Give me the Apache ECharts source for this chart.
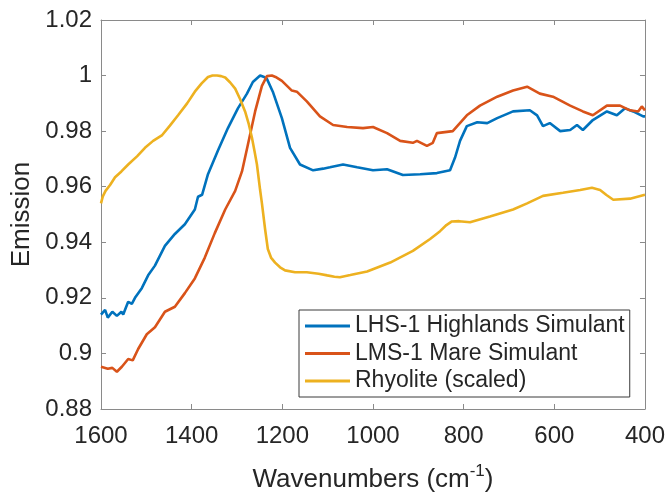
<!DOCTYPE html>
<html>
<head>
<meta charset="utf-8">
<script src="https://cdn.jsdelivr.net/npm/echarts@6/dist/echarts.min.js"></script>
<style>html,body{margin:0;padding:0;background:#fff}#c{width:668px;height:499px}</style>
</head>
<body>
<div id="c"></div>
<script>
const xTicks = [1600, 1400, 1200, 1000, 800, 600, 400];
const yTicks = [0.88, 0.9, 0.92, 0.94, 0.96, 0.98, 1, 1.02];
const seriesNames = ['LHS-1 Highlands Simulant', 'LMS-1 Mare Simulant', 'Rhyolite (scaled)'];

const lhsWn = [1600,1591,1585,1575,1565,1555,1551,1545,1540,1532,1525,1510,1496,1481,1459,1437,1415,1393,1386,1377,1364,1342,1320,1298,1278,1265,1249,1240,1234,1221,1201,1183,1161,1132,1110,1095,1066,1035,1000,969,934,896,859,830,819,808,793,770,748,726,691,654,638,625,610,587,565,550,537,515,484,462,444,426,404,400];
const lhsVal = [0.914,0.9157,0.9129,0.915,0.9135,0.915,0.914,0.9165,0.9186,0.9178,0.92,0.9235,0.9281,0.9316,0.9387,0.943,0.9465,0.9518,0.9564,0.9571,0.9645,0.973,0.9811,0.9882,0.9935,0.9977,1.0,0.9995,0.9988,0.9942,0.9847,0.974,0.968,0.9659,0.9665,0.967,0.968,0.967,0.9659,0.9663,0.9642,0.9645,0.9649,0.9659,0.9705,0.9765,0.9818,0.9832,0.9829,0.9847,0.9871,0.9875,0.9857,0.9818,0.9829,0.98,0.9804,0.9822,0.9804,0.984,0.9871,0.9857,0.9882,0.9871,0.9853,0.9853];

const lmsWn = [1600,1585,1575,1565,1554,1540,1530,1518,1499,1481,1459,1437,1415,1393,1371,1349,1326,1304,1289,1276,1260,1245,1234,1223,1215,1201,1179,1168,1146,1117,1088,1057,1022,1000,969,940,912,903,881,868,859,824,793,764,726,691,660,632,603,565,537,515,484,455,433,415,407,400];
const lmsVal = [0.8952,0.8945,0.8948,0.8934,0.8952,0.898,0.8975,0.9016,0.9069,0.9094,0.915,0.9168,0.9217,0.927,0.9345,0.9433,0.9518,0.9585,0.9655,0.9751,0.9871,0.9963,0.9998,1.0,0.9995,0.9981,0.9946,0.9942,0.9907,0.9853,0.9822,0.9815,0.9811,0.9815,0.9793,0.9765,0.9758,0.9765,0.9747,0.9758,0.9793,0.98,0.9857,0.9892,0.9924,0.9946,0.996,0.9935,0.9924,0.9892,0.9871,0.9857,0.9892,0.9892,0.9875,0.9871,0.9889,0.9875];

const rhyWn = [1600,1596,1590,1580,1569,1555,1540,1520,1503,1485,1465,1448,1430,1410,1393,1378,1364,1354,1344,1335,1326,1315,1304,1293,1282,1274,1267,1261,1256,1249,1245,1238,1232,1225,1216,1205,1194,1172,1146,1120,1101,1085,1073,1050,1013,962,912,874,852,838,826,810,786,742,691,660,625,581,543,517,499,485,470,433,400];
const rhyVal = [0.954,0.9565,0.9585,0.9606,0.9634,0.9655,0.968,0.971,0.974,0.9765,0.9786,0.982,0.9857,0.99,0.9942,0.9972,0.9995,1.0,1.0,0.9998,0.9993,0.9975,0.9953,0.9915,0.987,0.9825,0.9776,0.9725,0.968,0.9588,0.954,0.9447,0.9376,0.9345,0.9327,0.931,0.9299,0.9292,0.9292,0.9287,0.9281,0.9276,0.9274,0.9282,0.9295,0.9327,0.9369,0.9412,0.944,0.9462,0.9475,0.9476,0.9472,0.9493,0.9518,0.954,0.9567,0.9578,0.9588,0.9596,0.9588,0.957,0.9553,0.9557,0.9571];

const colors = ['#0072BD', '#D95319', '#EDB120'];
const zip = (a, b) => a.map((v, i) => [v, b[i]]);

const FONT = 'Liberation Sans';
const axisCol = '#8a8a8a';
const labelCol = '#262626';

const chart = echarts.init(document.getElementById('c'), null, {renderer: 'canvas'});
const baseX = {
  type: 'value', inverse: true, min: 400, max: 1600, interval: 200,
  axisLine: {show: true, lineStyle: {color: axisCol, width: 1}},
  axisTick: {show: true, inside: true, length: 5, lineStyle: {color: axisCol}},
  splitLine: {show: false}
};
const baseY = {
  type: 'value', min: 0.88, max: 1.02, interval: 0.02,
  axisLine: {show: true, lineStyle: {color: axisCol, width: 1}},
  axisTick: {show: true, inside: true, length: 5, lineStyle: {color: axisCol}},
  splitLine: {show: false}
};
chart.setOption({
  animation: false,
  backgroundColor: '#fff',
  grid: {left: 101, right: 23, top: 20, bottom: 83, containLabel: false},
  xAxis: [
    Object.assign({}, baseX, {
      position: 'bottom',
      axisLabel: {show: true, color: labelCol, fontFamily: FONT, fontSize: 24, margin: 15,
        formatter: v => xTicks.includes(v) ? String(v) : ''},
      name: '{a|Wavenumbers (cm}{s|-1}{a|)}',
      nameLocation: 'middle', nameGap: 54,
      nameTextStyle: {rich: {
        a: {fontFamily: FONT, fontSize: 26, color: labelCol, verticalAlign: 'bottom', lineHeight: 30},
        s: {fontFamily: FONT, fontSize: 17, color: labelCol, verticalAlign: 'top', lineHeight: 30, padding: [0,0,14,0]}
      }}
    }),
    Object.assign({}, baseX, {position: 'top', axisLabel: {show: false}})
  ],
  yAxis: [
    Object.assign({}, baseY, {
      position: 'left',
      axisLabel: {show: true, color: labelCol, fontFamily: FONT, fontSize: 24, margin: 9,
        formatter: v => { const t = yTicks.find(k => Math.abs(k - v) < 1e-9); return t === undefined ? '' : String(t); }},
      name: 'Emission', nameLocation: 'middle', nameGap: 59,
      nameTextStyle: {fontFamily: FONT, fontSize: 26, color: labelCol}
    }),
    Object.assign({}, baseY, {position: 'right', axisLabel: {show: false}})
  ],
  legend: {
    show: true, orient: 'vertical', left: 299, top: 310,
    backgroundColor: '#fff', borderColor: '#3a3a3a', borderWidth: 1, borderRadius: 0,
    padding: [4, 5, 4, 6], itemGap: 3.5, itemWidth: 45, itemHeight: 3, icon: 'rect',
    textStyle: {fontFamily: FONT, fontSize: 23, color: labelCol, lineHeight: 24},
    data: seriesNames
  },
  series: [
    {name: seriesNames[0], type: 'line', data: zip(lhsWn, lhsVal), color: colors[0], symbol: 'none', showSymbol: false, lineStyle: {width: 2.6, color: colors[0]}, z: 3},
    {name: seriesNames[1], type: 'line', data: zip(lmsWn, lmsVal), color: colors[1], symbol: 'none', showSymbol: false, lineStyle: {width: 2.6, color: colors[1]}, z: 4},
    {name: seriesNames[2], type: 'line', data: zip(rhyWn, rhyVal), color: colors[2], symbol: 'none', showSymbol: false, lineStyle: {width: 2.6, color: colors[2]}, z: 5}
  ]
});
</script>
</body>
</html>
